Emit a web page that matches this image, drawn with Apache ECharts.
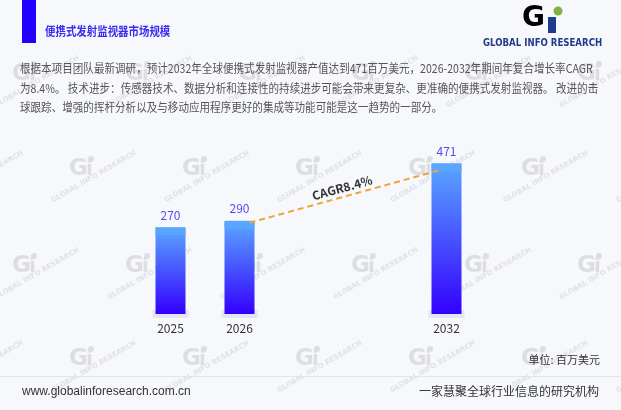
<!DOCTYPE html>
<html><head><meta charset="utf-8">
<script src="https://cdn.jsdelivr.net/npm/echarts@6/dist/echarts.min.js"></script>
<style>html,body{margin:0;padding:0;background:#f7f8fc;}#c{width:621px;height:410px;}</style>
</head><body><div id="c"></div>
<script>
var categories = ['2025', '2026', '', '', '2032'];
var values = [270, 290, null, null, 471];
var cagrFrom = ['2026', 290];
var cagrTo = ['2032', 471];
var cagrLabel = 'CAGR8.4%';
var title = '便携式发射监视器市场规模';
var paragraph = ['根据本项目团队最新调研，预计2032年全球便携式发射监视器产值达到471百万美元，2026-2032年期间年复合增长率CAGR',
  '为8.4%。 技术进步：传感器技术、数据分析和连接性的持续进步可能会带来更复杂、更准确的便携式发射监视器。 改进的击',
  '球跟踪、增强的挥杆分析以及与移动应用程序更好的集成等功能可能是这一趋势的一部分。'];
var unitText = '单位: 百万美元';
var footerLeft = 'www.globalinforesearch.com.cn';
var footerRight = '一家慧聚全球行业信息的研究机构';

var chart = echarts.init(document.getElementById('c'), null, {renderer: 'canvas'});
var font = '"Noto Sans CJK SC", "Noto Sans", sans-serif';
var capData = values.slice();

function watermark(cx, cy) {
  return {
    type: 'group', x: cx, y: cy, silent: true, z: -10,
    children: [
      {type: 'text', x: -13, y: -12, style: {text: 'G', fill: '#dddee3', font: 'bold 23px "DejaVu Sans", sans-serif'}},
      {type: 'text', x: 4, y: -10, style: {text: 'i', fill: '#dddee3', font: 'bold 20px "DejaVu Sans", sans-serif'}},
      {type: 'circle', shape: {cx: 9, cy: -11, r: 3}, style: {fill: '#dddee3'}},
      {type: 'text', x: -32, y: 28, rotation: Math.PI / 6, style: {text: 'GLOBAL INFO RESEARCH', fill: '#e0e1e6', font: 'bold 7px "DejaVu Sans", sans-serif'}}
    ]
  };
}

var graphics = [];
var rowsA = [170, 360], rowsB = [75, 267];
rowsA.forEach(function (y) { for (var x = -31; x < 660; x += 113) graphics.push(watermark(x, y)); });
rowsB.forEach(function (y) { for (var x = 25; x < 660; x += 113) graphics.push(watermark(x, y)); });

graphics = graphics.concat([
  {type: 'rect', left: 22, top: 0, shape: {width: 14, height: 43}, style: {fill: '#2200ff'}},
  {type: 'text', x: 45, y: 25, scaleX: 0.87, style: {text: title, fill: '#3b2cf2', font: 'bold 12px ' + font}},
  {type: 'text', x: 522, y: 5, style: {text: 'G', fill: new echarts.graphic.LinearGradient(0, 0, 0, 1, [
      {offset: 0, color: '#1f3b8f'}, {offset: 0.55, color: '#1f3b8f'}, {offset: 0.55, color: '#7cb342'}, {offset: 1, color: '#7cb342'}]),
      font: 'bold 28px "DejaVu Sans", sans-serif'}},
  {type: 'rect', x: 548, y: 17, shape: {width: 8, height: 16}, style: {fill: '#1f3b8f'}},
  {type: 'circle', shape: {cx: 558, cy: 11, r: 4.5}, style: {fill: '#7cb342'}},
  {type: 'text', x: 483, y: 38, scaleX: 0.86, style: {text: 'GLOBAL INFO RESEARCH', fill: '#1e3a8a', font: 'bold 10px "DejaVu Sans", sans-serif'}},
  {type: 'text', x: 20, y: 59, scaleX: 0.88, style: {text: paragraph.join('\n'), fill: '#555', font: '12px ' + font, lineHeight: 19.5}},
  {type: 'text', right: 21, top: 354, style: {text: unitText, fill: '#333', font: '11px ' + font}},
  {type: 'rect', left: 0, top: 376, shape: {width: 621, height: 1}, style: {fill: '#e3e4e8'}},
  {type: 'text', left: 22, top: 386, style: {text: footerLeft, fill: '#333', font: '12px "Liberation Sans", Arial, sans-serif'}},
  {type: 'text', right: 22, top: 385, style: {text: footerRight, fill: '#333', font: '12px ' + font}}
]);

var option = {
  backgroundColor: '#f7f8fc',
  animation: false,
  grid: {left: 136, right: 140, top: 155, bottom: 96},
  xAxis: {
    type: 'category', data: categories,
    axisLine: {show: false}, axisTick: {show: false},
    axisLabel: {color: '#333', fontSize: 12, margin: 8, fontFamily: font}
  },
  yAxis: {type: 'value', min: 0, max: 500, show: false, splitLine: {show: false}},
  graphic: graphics,
  series: [
    {
      type: 'bar', data: values, barWidth: 30, z: 2,
      itemStyle: {
        color: new echarts.graphic.LinearGradient(0, 0, 0, 1, [
          {offset: 0, color: '#5aa6ff'}, {offset: 1, color: '#3300ff'}])
      },
      label: {show: true, position: 'top', distance: 7, color: '#5a48f0', fontSize: 12, fontFamily: font}
    },
    {
      type: 'pictorialBar', data: capData, symbol: 'ellipse', symbolSize: [30, 8],
      symbolPosition: 'end', symbolOffset: [0, -1], z: 3,
      itemStyle: {color: '#5aa6ff'}, silent: true
    },
    {
      type: 'pictorialBar', data: capData, symbol: 'ellipse', symbolSize: [36, 8],
      symbolPosition: 'start', symbolOffset: [0, 4], z: 1,
      itemStyle: {color: '#e2e5f2'}, silent: true
    }
  ]
};
chart.setOption(option);

var p1 = chart.convertToPixel({seriesIndex: 0}, cagrFrom);
var p2 = chart.convertToPixel({seriesIndex: 0}, cagrTo);
chart.setOption({
  series: [{
    markLine: {
      symbol: 'none', silent: true,
      lineStyle: {color: '#f0a33a', type: [6, 4], width: 2},
      label: {show: true, position: 'middle', formatter: cagrLabel, color: '#333', fontWeight: 'bold', fontSize: 12, fontFamily: font, distance: 3},
      data: [[{x: p1[0] + 10, y: p1[1] + 1}, {x: p2[0] - 7, y: p2[1] + 6}]]
    }
  }]
});
</script></body></html>
